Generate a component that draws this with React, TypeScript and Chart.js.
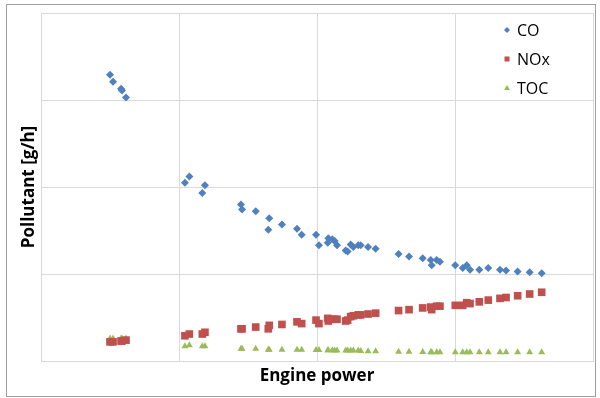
import React, { useEffect, useRef } from "react";
import { Chart, registerables } from "chart.js";

Chart.register(...registerables);

const enginePower = [
  50.0, 52.2, 58.0, 58.7, 61.6,
  104.3, 107.5, 116.9, 118.8,
  144.9, 145.7, 155.6, 165.4, 164.7, 174.6, 185.5, 188.9, 199.3, 201.4, 208.2,
  207.8, 211.1, 212.8, 214.5, 220.8, 222.2, 224.4, 226.3, 229.9, 231.7, 237.0, 242.5,
  259.1, 266.7, 276.6, 282.4, 283.1, 286.7, 289.1, 300.2, 305.6, 308.5, 310.9,
  317.6, 324.1, 332.6, 337.0, 345.4, 354.1, 362.8,
];

const coValues = [
  329, 321, 313, 311, 303,
  205, 212, 193, 202,
  180, 174, 172, 164, 151, 157, 152, 145, 145, 133, 141,
  136, 140, 138, 133, 127, 126, 134, 131, 133, 133, 131, 129,
  123, 120, 118, 116, 110, 116, 114, 110, 107, 110, 105,
  105, 107, 105, 104, 103, 102, 101,
];

const noxValues = [
  22, 22, 23, 23, 24,
  29, 31, 31, 33,
  37, 37, 39, 41, 37, 42, 45, 43, 47, 43, 46,
  49, 48, 48, 48, 46, 47, 51, 52, 53, 53, 54, 55,
  58, 59, 61, 62, 59, 63, 63, 64, 64, 67, 66,
  68, 70, 72, 73, 75, 77, 79,
];

const tocValues = [
  26, 26, 26, 26, 26,
  17, 18, 17, 17,
  14, 14, 14, 13, 13, 13, 13, 13, 12.6, 12.6, 12.3,
  12.3, 12.3, 12, 12, 12, 12, 12, 12, 12, 11.5, 11.1, 11.1,
  10.7, 10.5, 10.3, 10.2, 10.2, 10.1, 10, 10, 10, 10, 10,
  10, 10, 10, 10, 10, 10, 10,
];

const seriesNames = ["CO", "NOx", "TOC"];
const seriesColors = ["#4F81BD", "#C0504D", "#9BBB59"];
const seriesShapes = ["rectRot", "rect", "triangle"];

const xTitle = "Engine power";
const yTitle = "Pollutant [g/h]";

const toPoints = (ys: number[]) => enginePower.map((x, i) => ({ x, y: ys[i] }));

const legendPlugin = {
  id: "customLegend",
  afterDraw(chart: any) {
    const ctx = chart.ctx;
    const ds = chart.data.datasets;
    const x0 = 507;
    const ys = [30, 59, 88];
    ctx.save();
    ds.forEach((d: any, i: number) => {
      const y = ys[i];
      ctx.fillStyle = d.backgroundColor;
      ctx.beginPath();
      if (i === 0) {
        ctx.moveTo(x0, y - 3);
        ctx.lineTo(x0 + 3, y);
        ctx.lineTo(x0, y + 3);
        ctx.lineTo(x0 - 3, y);
      } else if (i === 1) {
        ctx.rect(x0 - 2.5, y - 2.5, 5, 5);
      } else {
        ctx.moveTo(x0, y - 3);
        ctx.lineTo(x0 + 3, y + 2);
        ctx.lineTo(x0 - 3, y + 2);
      }
      ctx.closePath();
      ctx.fill();
      ctx.fillStyle = "#000000";
      ctx.font = "16px 'Open Sans', sans-serif";
      ctx.textBaseline = "middle";
      ctx.textAlign = "left";
      ctx.fillText(d.label, 517, y + 1);
    });
    ctx.restore();
  },
};

export default function App() {
  const ref = useRef<HTMLCanvasElement | null>(null);

  useEffect(() => {
    if (!ref.current) return;
    const datasets = [coValues, noxValues, tocValues].map((vals, i) => ({
      label: seriesNames[i],
      data: toPoints(vals),
      backgroundColor: seriesColors[i],
      borderColor: seriesColors[i],
      borderWidth: 0,
      pointStyle: seriesShapes[i],
      pointRadius: i === 1 ? 5.4 : 4,
      pointHoverRadius: i === 1 ? 5.4 : 4,
      showLine: false,
    }));
    const chart = new Chart(ref.current, {
      type: "scatter",
      data: { datasets },
      plugins: [legendPlugin],
      options: {
        animation: false,
        responsive: false,
        devicePixelRatio: 1,
        layout: { padding: { top: 13, right: 7, left: 0, bottom: 0 } },
        plugins: { legend: { display: false }, tooltip: { enabled: false } },
        scales: {
          x: {
            type: "linear",
            min: 0,
            max: 400,
            ticks: { display: false, stepSize: 100 },
            grid: { color: "#d9d9d9", lineWidth: 1, drawTicks: false },
            border: { color: "#d9d9d9" },
            title: {
              display: true,
              text: xTitle,
              color: "#000000",
              font: { family: "'Open Sans', sans-serif", size: 17, weight: "bold" },
              padding: { top: 0, bottom: 11.8 },
            },
            afterFit: (s: any) => {
              s.height = 37;
            },
          },
          y: {
            type: "linear",
            min: 0,
            max: 400,
            ticks: { display: false, stepSize: 100 },
            grid: { color: "#d9d9d9", lineWidth: 1, drawTicks: false },
            border: { color: "#d9d9d9" },
            title: {
              display: true,
              text: yTitle,
              color: "#000000",
              font: { family: "'Open Sans', sans-serif", size: 17, weight: "bold" },
              padding: { top: 18.8, bottom: 0 },
            },
            afterFit: (s: any) => {
              s.width = 41;
            },
          },
        },
      },
    });
    return () => chart.destroy();
  }, []);

  return (
    <div style={{ position: "fixed", left: 0, top: 0, width: 600, height: 398, background: "#ffffff" }}>
      <div
        style={{
          position: "absolute",
          left: 6,
          top: 4,
          width: 590,
          height: 393,
          boxSizing: "border-box",
          border: "1px solid #a0a0a0",
        }}
      />
      <canvas ref={ref} width={600} height={398} style={{ position: "absolute", left: 0, top: 0 }} />
    </div>
  );
}
